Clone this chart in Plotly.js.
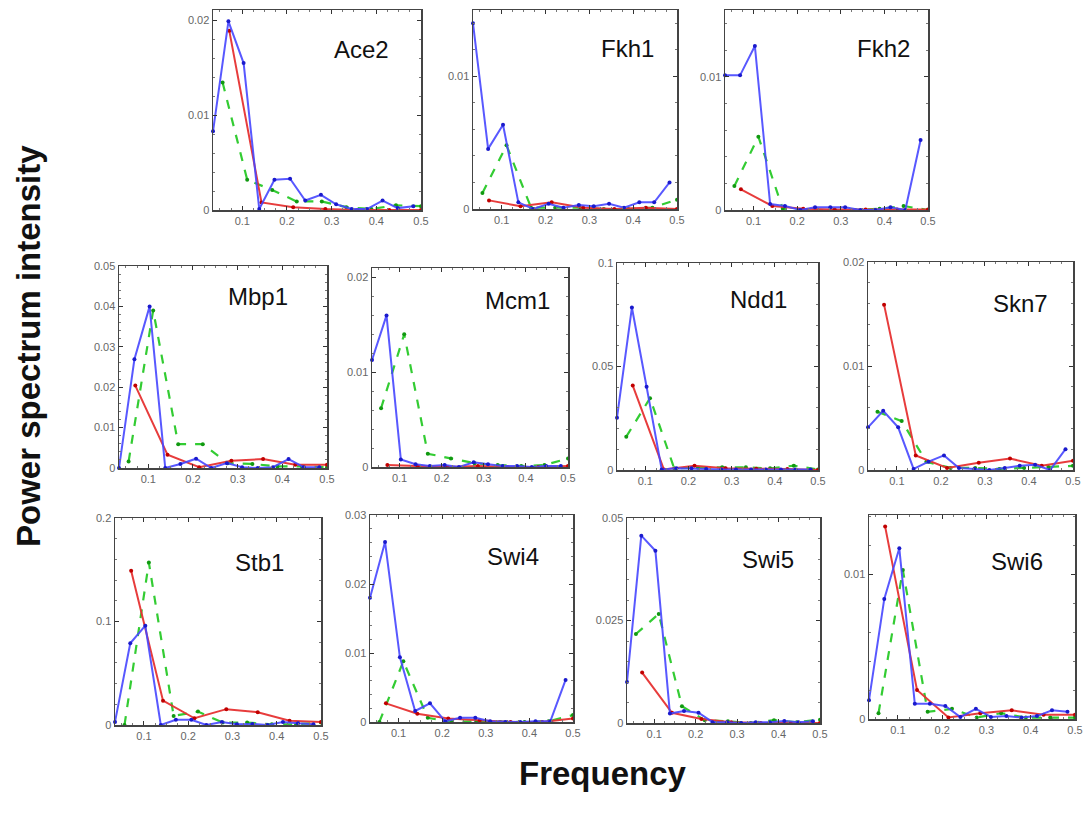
<!DOCTYPE html>
<html>
<head>
<meta charset="utf-8">
<script src="https://cdn.plot.ly/plotly-3.0.1.min.js"></script>
<style>html,body{margin:0;padding:0;background:#fff;}#chart{width:1083px;height:820px;}</style>
</head>
<body>
<div id="chart"></div>
<script>
// Frequencies (x) for each of the three series
const freqBlue  = [0.0345,0.069,0.103,0.138,0.172,0.207,0.241,0.276,0.310,0.345,0.379,0.414,0.448,0.483];
const freqRed   = [0.071,0.143,0.214,0.286,0.357,0.429,0.5];
const freqGreen = [0.056,0.111,0.167,0.222,0.278,0.333,0.389,0.444,0.5];

const genes = ["Ace2","Fkh1","Fkh2","Mbp1","Mcm1","Ndd1","Skn7","Stb1","Swi4","Swi5","Swi6"];

// Power spectrum values
const ace2Blue  = [0.0083,0.0199,0.0155,0.0001,0.0032,0.0033,0.0010,0.0016,0.0006,0.0001,0.0001,0.0010,0.0002,0.0004];
const ace2Red   = [0.0189,0.0008,0.0003,0.0001,0.0000,0.0000,0.0000];
const ace2Green = [0.01345,0.0032,0.0021,0.0009,0.0009,0.0003,0.0001,0.0005,0.0004];

const fkh1Blue  = [0.0140,0.00453,0.00635,0.0005,0.0000,0.0004,0.0001,0.0003,0.0002,0.0004,0.0001,0.0005,0.0005,0.0020];
const fkh1Red   = [0.00065,0.0002,0.0005,0.0001,0.0000,0.0001,0.0000];
const fkh1Green = [0.0012,0.0048,0.0001,0.0001,0.0001,0.0000,0.0000,0.0001,0.0007];

const fkh2Blue  = [0.0101,0.0101,0.0123,0.00045,0.0003,0.0000,0.0002,0.0002,0.0002,0.0000,0.0000,0.0002,0.0000,0.00525];
const fkh2Red   = [0.00155,0.0003,0.0001,0.00003,0.00003,0.00003,0.00003];
const fkh2Green = [0.0018,0.0055,0.0001,0.0000,0.0000,0.0000,0.0001,0.0003,0.0000];

const mbp1Blue  = [0.0000,0.0269,0.0400,0.0000,0.0010,0.0023,0.0000,0.0012,0.0002,0.0000,0.0002,0.0022,0.0002,0.0002];
const mbp1Red   = [0.0204,0.0033,0.0002,0.0018,0.0022,0.0008,0.0008];
const mbp1Green = [0.0016,0.0390,0.0059,0.0059,0.0012,0.0010,0.0004,0.0004,0.0002];

const mcm1Blue  = [0.0113,0.0160,0.0008,0.0003,0.0001,0.0002,0.0000,0.0005,0.0003,0.0001,0.0001,0.0000,0.0001,0.0001];
const mcm1Red   = [0.0002,0.0001,0.0000,0.0001,0.0000,0.0000,0.0001];
const mcm1Green = [0.0062,0.0140,0.0014,0.0009,0.0004,0.0002,0.0001,0.0002,0.0009];

const ndd1Blue  = [0.0253,0.0785,0.0402,0.0003,0.0008,0.0008,0.0005,0.0003,0.0003,0.0003,0.0003,0.0003,0.0003,0.0003];
const ndd1Red   = [0.0408,0.0003,0.0021,0.0008,0.0006,0.0005,0.0000];
const ndd1Green = [0.0161,0.0347,0.0008,0.0011,0.0013,0.0013,0.0008,0.0021,0.0003];

const skn7Blue  = [0.0041,0.0057,0.0041,0.0001,0.0008,0.0014,0.0002,0.0001,0.0000,0.0002,0.0004,0.0005,0.0000,0.0020];
const skn7Red   = [0.0159,0.0014,0.0002,0.0007,0.0011,0.0004,0.0009];
const skn7Green = [0.0056,0.0047,0.0008,0.0002,0.0002,0.0001,0.0002,0.0003,0.0004];

const stb1Blue  = [0.003,0.079,0.096,0.000,0.005,0.005,0.000,0.003,0.0007,0.001,0.000,0.003,0.0016,0.0007];
const stb1Red   = [0.149,0.0235,0.0065,0.0153,0.0124,0.0042,0.003];
const stb1Green = [0.000,0.157,0.0088,0.013,0.0023,0.0023,0.0007,0.0007,0.0023];

const swi4Blue  = [0.0180,0.0261,0.0094,0.0016,0.0027,0.0001,0.0006,0.0006,0.0001,0.0000,0.0000,0.0001,0.0001,0.0061];
const swi4Red   = [0.0027,0.0012,0.0005,0.0002,0.0000,0.0000,0.0005];
const swi4Green = [0.0000,0.0088,0.0006,0.0000,0.0001,0.0000,0.0000,0.0001,0.0010];

const swi5Blue  = [0.0100,0.0457,0.0420,0.0023,0.0029,0.0025,0.0002,0.0002,0.0000,0.0002,0.0002,0.0005,0.0002,0.0004];
const swi5Red   = [0.0123,0.0025,0.0010,0.0002,0.0000,0.0000,0.0000];
const swi5Green = [0.0217,0.0266,0.0041,0.0007,0.0004,0.0000,0.0007,0.0002,0.0008];

const swi6Blue  = [0.0013,0.0083,0.0118,0.00105,0.00105,0.0009,0.00014,0.0007,0.00014,0.0002,0.0001,0.0002,0.0006,0.0005];
const swi6Red   = [0.0133,0.0020,0.0001,0.0004,0.0006,0.0003,0.0003];
const swi6Green = [0.0004,0.0103,0.0005,0.0007,0.0001,0.0004,0.0001,0.0001,0.0001];

const xTickVals = [0.1,0.2,0.3,0.4,0.5];
const xTickText = ["0.1","0.2","0.3","0.4","0.5"];

const yTicks = {
  Ace2:[0,0.01,0.02], Fkh1:[0,0.01], Fkh2:[0,0.01], Mbp1:[0,0.01,0.02,0.03,0.04,0.05],
  Mcm1:[0,0.01,0.02], Ndd1:[0,0.05,0.1], Skn7:[0,0.01,0.02], Stb1:[0,0.1,0.2],
  Swi4:[0,0.01,0.02,0.03], Swi5:[0,0.025,0.05], Swi6:[0,0.01]
};
const yTop = {Ace2:0.0211,Fkh1:0.0150,Fkh2:0.0150,Mbp1:0.05,Mcm1:0.0210,Ndd1:0.1,Skn7:0.02,Stb1:0.2,Swi4:0.03,Swi5:0.05,Swi6:0.0141};

const seriesData = {
  Ace2:[ace2Blue,ace2Red,ace2Green], Fkh1:[fkh1Blue,fkh1Red,fkh1Green], Fkh2:[fkh2Blue,fkh2Red,fkh2Green],
  Mbp1:[mbp1Blue,mbp1Red,mbp1Green], Mcm1:[mcm1Blue,mcm1Red,mcm1Green], Ndd1:[ndd1Blue,ndd1Red,ndd1Green],
  Skn7:[skn7Blue,skn7Red,skn7Green], Stb1:[stb1Blue,stb1Red,stb1Green], Swi4:[swi4Blue,swi4Red,swi4Green],
  Swi5:[swi5Blue,swi5Red,swi5Green], Swi6:[swi6Blue,swi6Red,swi6Green]
};

// Panel boxes in pixels: [left, right, top, bottom]
const boxes = {
  Ace2:[213,421,10,210], Fkh1:[473,677,10,209], Fkh2:[725,928,10,210],
  Mbp1:[119,327,266,468], Mcm1:[372,568,268,467], Ndd1:[617,818,263,470], Skn7:[868,1073,262,470],
  Stb1:[115,321,518,725], Swi4:[370,573,515,722], Swi5:[627,820,518,723], Swi6:[869,1075,515,719]
};
// Gene label centres in pixels
const labelPos = {
  Ace2:[361,49], Fkh1:[627,48], Fkh2:[883,48], Mbp1:[258,296], Mcm1:[517,300], Ndd1:[758,299], Skn7:[1020,303],
  Stb1:[259,562], Swi4:[513,556], Swi5:[768,559], Swi6:[1017,561]
};

const W = 1083, H = 820;
const fx = p => p / W;
const fy = p => 1 - p / H;

const traces = [];
const layout = {
  width: W, height: H,
  margin: {l:0, r:0, t:0, b:0},
  paper_bgcolor: '#ffffff', plot_bgcolor: '#ffffff',
  showlegend: false,
  font: {family: 'Liberation Sans, Arial, sans-serif', color: '#555'},
  annotations: []
};

const styles = [
  {freq: freqBlue,  line: {color:'rgba(70,70,255,0.9)', width:2}, marker:{color:'#1a1acc', size:4}},
  {freq: freqRed,   line: {color:'rgba(230,50,50,0.95)', width:2}, marker:{color:'#c00000', size:4}},
  {freq: freqGreen, line: {color:'#33cc33', width:2.2, dash:'dash'}, marker:{color:'#119911', size:4}}
];

genes.forEach((g, i) => {
  const n = i + 1;
  const xa = n === 1 ? 'x' : 'x' + n;
  const ya = n === 1 ? 'y' : 'y' + n;
  const xk = n === 1 ? 'xaxis' : 'xaxis' + n;
  const yk = n === 1 ? 'yaxis' : 'yaxis' + n;
  const b = boxes[g];
  [2,1,0].forEach(s => {
    traces.push({
      type:'scatter', mode:'lines+markers',
      x: styles[s].freq, y: seriesData[g][s],
      xaxis: xa, yaxis: ya,
      line: styles[s].line, marker: styles[s].marker,
      cliponaxis: false, hoverinfo:'x+y'
    });
  });
  const tv = yTicks[g];
  const majorStep = tv[1] - tv[0];
  layout[xk] = {
    domain: [fx(b[0]), fx(b[1])], anchor: ya,
    range: [0.0345, 0.5], tickvals: xTickVals, ticktext: xTickText,
    ticks: 'inside', ticklen: 4, tickcolor: '#333', mirror: 'allticks',
    showline: true, linecolor: '#444', linewidth: 1.5,
    showgrid: false, zeroline: false,
    tickfont: {size: 11, color: '#666', family: 'Liberation Sans, Arial, sans-serif'},
    minor: {ticks: 'inside', ticklen: 2, dtick: 0.025, tick0: 0, tickcolor: '#777'}
  };
  layout[yk] = {
    domain: [fy(b[3]), fy(b[2])], anchor: xa,
    range: [0, yTop[g]], tickvals: tv,
    ticktext: tv.map(v => String(v)),
    ticks: 'inside', ticklen: 4, tickcolor: '#333', mirror: 'allticks',
    showline: true, linecolor: '#444', linewidth: 1.5,
    showgrid: false, zeroline: false,
    tickfont: {size: 11, color: '#666', family: 'Liberation Sans, Arial, sans-serif'},
    minor: {ticks: 'inside', ticklen: 2, dtick: majorStep / 5, tick0: 0, tickcolor: '#777'}
  };
  layout.annotations.push({
    text: g, xref:'paper', yref:'paper',
    x: fx(labelPos[g][0]), y: fy(labelPos[g][1]),
    xanchor:'center', yanchor:'middle', showarrow:false,
    font: {size: 24, color:'#111', family:'Liberation Sans, Arial, sans-serif'}
  });
});

layout.annotations.push({
  text: '<b>Power spectrum intensity</b>', xref:'paper', yref:'paper',
  x: fx(29), y: fy(346), xanchor:'center', yanchor:'middle', textangle:-90, showarrow:false,
  font: {size: 33, color:'#111', family:'Liberation Sans, Arial, sans-serif'}
});
layout.annotations.push({
  text: '<b>Frequency</b>', xref:'paper', yref:'paper',
  x: fx(603), y: fy(773), xanchor:'center', yanchor:'middle', showarrow:false,
  font: {size: 33, color:'#111', family:'Liberation Sans, Arial, sans-serif'}
});

Plotly.newPlot('chart', traces, layout, {staticPlot: true});
</script>
</body>
</html>
